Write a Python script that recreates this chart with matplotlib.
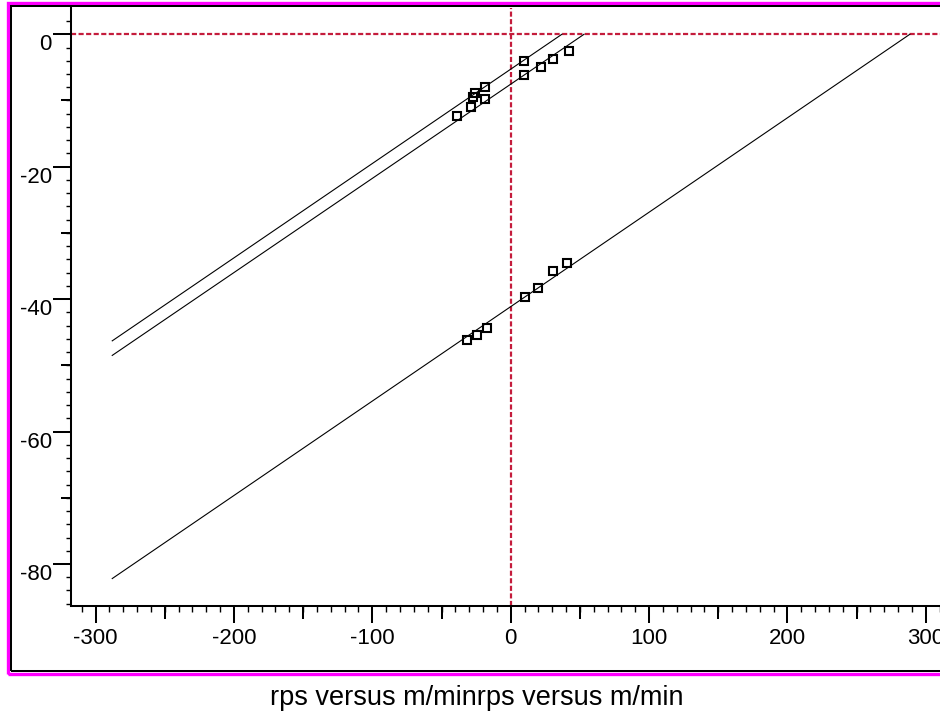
import matplotlib
matplotlib.use("Agg")
import matplotlib.pyplot as plt
import matplotlib.transforms as mtransforms
from matplotlib.patches import Rectangle
from matplotlib.ticker import MultipleLocator

plt.rcParams['font.family'] = ['Liberation Sans', 'DejaVu Sans']
plt.rcParams['axes.unicode_minus'] = False

# ---------------- data ----------------
# fitted lines (end points)
line_x = [[-288, 37], [-288, 53], [-288, 288.5]]
line_y = [[-46.3, 0], [-48.5, 0], [-82.2, 0]]

# measured points
pts_a_x = [-27, -25.8, -18.6, 9.8]
pts_a_y = [-9.5, -8.8, -7.9, -4.1]
pts_b_x = [-39, -28.7, -18.6, 9.8, 21.9, 30.4, 42.1]
pts_b_y = [-12.4, -11.0, -9.8, -6.15, -4.9, -3.7, -2.5]
pts_c_x = [-31.8, -24.6, -17.3, 10.3, 20, 30.4, 40.5]
pts_c_y = [-46.1, -45.4, -44.3, -39.7, -38.3, -35.8, -34.6]

x_ticks = [-300, -200, -100, 0, 100, 200, 300]
x_labels = ['-300', '-200', '-100', '0', '100', '200', '300']
x_mid = [-250, -150, -50, 50, 150, 250]
y_ticks = [0, -20, -40, -60, -80]
y_labels = ['0', '-20', '-40', '-60', '-80']
y_mid = [-10, -30, -50, -70]

title = "rps versus m/minrps versus m/min"

# ---------------- figure ----------------
fig = plt.figure(figsize=(9.4, 7.14), dpi=100)
ax = fig.add_axes([71 / 940, (714 - 605.7) / 714, (940 - 71) / 940, (605.7 - 8) / 714])
ax.set_xlim(-317.8, 310.3)
ax.set_ylim(-86.3, 3.97)

red = '#c41c3c'
ax.axhline(0, color=red, lw=1.6, dashes=(2.3, 1.1), zorder=1)
ax.axvline(0, color=red, lw=1.6, dashes=(2.3, 1.1), zorder=1)

for lx, ly in zip(line_x, line_y):
    ax.plot(lx, ly, color='black', lw=0.8, zorder=2)

for px, py in [(pts_a_x, pts_a_y), (pts_b_x, pts_b_y), (pts_c_x, pts_c_y)]:
    ax.plot(px, py, ls='none', marker='s', ms=6, mfc='none', mec='black', mew=1.5, zorder=3)

for s in ['top', 'right']:
    ax.spines[s].set_visible(False)
for s in ['left', 'bottom']:
    ax.spines[s].set_linewidth(1.45)

ax.set_xticks(x_ticks, x_labels)
ax.set_yticks(y_ticks, y_labels)
ax.xaxis.set_minor_locator(MultipleLocator(10))
ax.yaxis.set_minor_locator(MultipleLocator(2))
ax.tick_params(axis='x', which='major', length=12.2, width=1.45, pad=4.0, labelsize=16)
ax.tick_params(axis='y', which='major', length=13, width=1.45, pad=0.7, labelsize=16)
ax.tick_params(axis='x', which='minor', length=4.5, width=1.0)
ax.tick_params(axis='y', which='minor', length=3.6, width=1.0)

# medium ticks
secx = ax.secondary_xaxis('bottom')
secx.set_xticks(x_mid)
secx.tick_params(length=9.5, width=1.45, labelbottom=False)
secx.spines['bottom'].set_linewidth(1.45)
secy = ax.secondary_yaxis('left')
secy.set_yticks(y_mid)
secy.tick_params(length=7.5, width=1.45, labelleft=False)
secy.spines['left'].set_linewidth(1.45)

# y labels sit a bit below their ticks
offset = mtransforms.ScaledTranslation(0, -0.08, fig.dpi_scale_trans)
for lbl in ax.get_yticklabels():
    lbl.set_transform(lbl.get_transform() + offset)

# frame
fig.add_artist(Rectangle((8.3 / 940, (714 - 673.5) / 714), 1.2, (673.5 - 3.3) / 714,
                         transform=fig.transFigure, fill=False, ec='#ff00ff', lw=2.4))
fig.add_artist(Rectangle((11 / 940, (714 - 671) / 714), 1.2, (671 - 6.3) / 714,
                         transform=fig.transFigure, fill=False, ec='black', lw=1.45))

fig.text(476.5 / 940, (714 - 705) / 714, title, ha='center', va='baseline', fontsize=19.5)

fig.savefig('out.png', dpi=100)
